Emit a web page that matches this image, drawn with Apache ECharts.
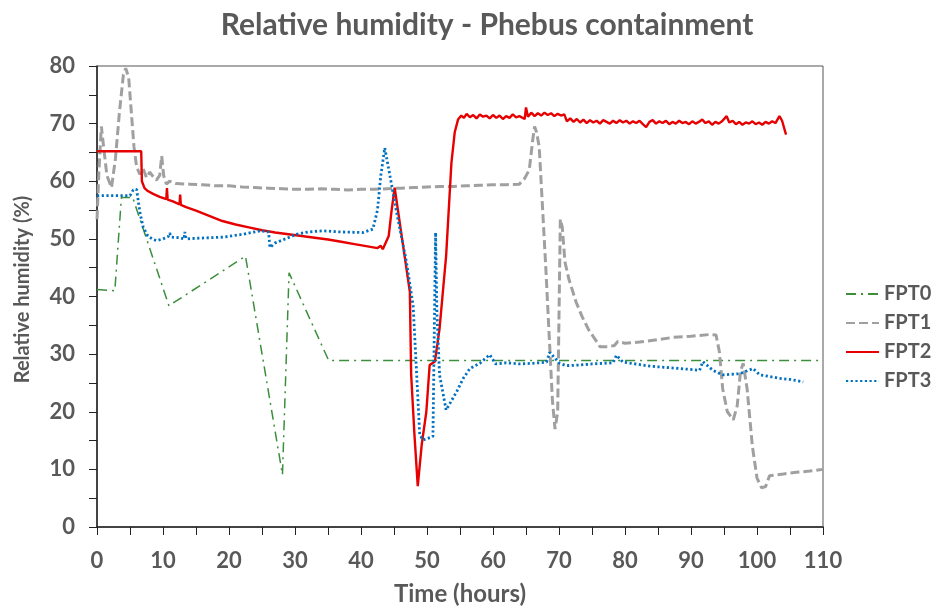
<!DOCTYPE html>
<html>
<head>
<meta charset="utf-8">
<title>Relative humidity - Phebus containment</title>
<script src="https://cdn.jsdelivr.net/npm/echarts@6/dist/echarts.min.js"></script>
<style>
  html, body { margin: 0; padding: 0; background: #fff; }
  #chart { width: 941px; height: 611px; }
</style>
</head>
<body>
<div id="chart"></div>
<script>
// time (hours) / relative humidity (%)
var fpt0Time = [0, 2.7, 3.7, 5.4, 10.9, 22.5, 28.1, 29.1, 35.1, 110];
var fpt0Rh   = [41.2, 41.0, 57.2, 57.2, 38.4, 47.0, 9.1, 44.1, 28.9, 28.9];

var fpt1Time = [0, 0.3, 0.66, 1.0, 1.5, 2.2, 2.8, 3.4, 4.0, 4.35, 4.8, 5.2, 5.6, 6.0, 6.5, 7.0, 7.5, 8.0, 8.5, 9.0,
  9.5, 9.8, 10.1, 10.5, 11, 12, 14, 16, 18, 20, 22, 24, 26, 28, 30, 32, 34, 36, 38, 40,
  42, 44, 46, 48, 50, 52, 54, 56, 58, 60, 62, 64, 64.8, 65.5, 66.0, 66.3, 66.6, 67.0, 68.0, 69.0,
  69.4, 69.8, 70.2, 70.5, 70.9, 71.5, 72.6, 73.5, 74.5, 75.4, 76.2, 77.5, 78.4, 78.9, 80, 82.2, 85, 87.2, 90, 92.8,
  93.8, 94.3, 94.8, 95.5, 96.4, 97.0, 97.5, 97.9, 98.5, 99.3, 100, 100.7, 101.3, 101.9, 104, 106, 108, 110];
var fpt1Rh = [53.4, 62, 69.5, 66, 61, 58.9, 64, 72, 78.5, 79.6, 78, 72, 66, 62.5, 61.2, 62.2, 60.6, 61.6, 60.8, 60.2,
  61.0, 64.4, 61, 59.5, 60.0, 59.6, 59.5, 59.4, 59.2, 59.2, 59.0, 58.9, 58.8, 58.7, 58.6, 58.6, 58.7, 58.6, 58.5, 58.6,
  58.6, 58.7, 58.8, 58.9, 59.0, 59.1, 59.1, 59.2, 59.3, 59.4, 59.4, 59.5, 60.5, 62, 67, 69.5, 68.5, 66, 45, 22,
  17, 20, 53.4, 52, 46, 43, 39, 36.5, 34.2, 32.7, 31.3, 31.3, 31.5, 32.2, 31.9, 32.1, 32.5, 32.9, 33.1, 33.4,
  33.3, 30.4, 24, 20, 18.6, 21, 27, 28.4, 24, 14, 8.5, 6.8, 7.0, 8.9, 9.2, 9.5, 9.7, 10];

var fpt2Time = [0, 6.7, 6.8, 7.2, 7.7, 8.5, 9.5, 10.5, 10.6, 10.7, 11.5, 12.5, 12.6, 12.7, 13.5, 15, 17, 19, 21, 23,
  25, 27, 29, 31, 33, 35, 37, 39, 41, 42.5, 43.0, 43.3, 43.6, 44.2, 44.6, 45.1, 47.4, 47.6, 48.1, 48.6,
  49.2, 49.9, 50.4, 51.2, 51.9, 52.9, 53.7, 54.2, 54.7, 55.2, 55.6, 56, 56.5, 57, 57.5, 58, 58.5, 59, 59.5, 60,
  60.5, 61, 61.5, 62, 62.5, 63, 63.5, 64, 64.8, 65, 65.3, 65.8, 66.3, 66.8, 67.3, 67.8, 68.3, 68.8, 69.3, 69.8,
  70.3, 70.8, 71.2, 71.7, 72.2, 72.7, 73.2, 73.7, 74.2, 74.7, 75.2, 75.7, 76.2, 76.7, 77.2, 77.7, 78.2, 78.7, 79.2, 79.7,
  80.2, 80.7, 81.2, 81.7, 82.2, 82.7, 83.2, 83.7, 84.2, 84.7, 85.2, 85.7, 86.2, 86.7, 87.2, 87.7, 88.2, 88.7, 89.2, 89.7,
  90.2, 90.7, 91.2, 91.7, 92.2, 92.7, 93.2, 93.7, 94.2, 94.7, 95.4, 95.8, 96.3, 96.8, 97.3, 97.8, 98.3, 98.8, 99.3, 99.8,
  100.3, 100.8, 101.3, 101.8, 102.3, 102.8, 103.4, 103.8, 104.1, 104.4];
var fpt2Rh = [65.2, 65.2, 60, 58.8, 58.3, 57.8, 57.3, 56.9, 58.8, 56.8, 56.5, 56.0, 57.7, 55.9, 55.5, 54.9, 54.0, 53.1, 52.5, 52.0,
  51.5, 51.1, 50.8, 50.5, 50.2, 49.9, 49.5, 49.1, 48.7, 48.4, 48.8, 48.2, 47.9, 50.5, 54.6, 58.9, 40.8, 26.4, 16, 7.1,
  14.3, 20, 28.1, 28.7, 34.4, 47.1, 63.2, 68.5, 70.7, 71.4, 71.0, 71.7, 71.1, 71.5, 70.9, 71.6, 71.2, 71.4, 70.9, 71.5,
  71.0, 71.4, 70.8, 71.3, 71.0, 71.6, 71.1, 71.3, 70.8, 72.8, 71.2, 71.9, 71.3, 71.8, 71.4, 71.9, 71.5, 71.8, 71.3, 71.7,
  71.4, 71.6, 70.4, 70.9, 70.3, 70.8, 70.2, 70.7, 70.1, 70.6, 70.2, 70.5, 70.0, 70.6, 70.3, 70.0, 70.5, 70.1, 70.6, 70.2,
  70.5, 70.0, 70.4, 70.1, 70.5, 69.9, 69.4, 70.3, 70.6, 70.0, 70.4, 70.1, 70.5, 69.9, 70.3, 70.0, 70.5, 70.1, 70.3, 69.9,
  70.4, 70.0, 70.3, 70.7, 70.1, 70.4, 69.8, 70.3, 70.0, 70.4, 71.3, 70.2, 70.5, 69.9, 70.3, 69.8, 70.2, 70.0, 70.4, 69.9,
  70.2, 69.8, 70.3, 70.0, 70.4, 70.1, 71.3, 70.5, 70.2, 68.1];

var fpt3Time = [0, 5.0, 5.5, 6.0, 6.5, 7.0, 7.7, 8.5, 9, 10, 10.8, 11.0, 11.3, 12.5, 13.2, 13.3, 13.5, 15, 17, 19.1,
  22.1, 24.7, 26.0, 26.2, 27, 29.2, 30.2, 32, 34.2, 37, 40.3, 41.8, 42.5, 43.0, 43.6, 44.3, 45.4, 46.9, 47.9, 48.9,
  49.4, 50.9, 51.3, 51.5, 51.9, 52.9, 53.5, 54.5, 55.5, 56.5, 58, 59.5, 60.4, 62, 64, 66, 68.1, 68.6, 70.1, 71.1,
  73.1, 75, 78.2, 78.7, 79.7, 81, 83.2, 85, 88.3, 91.3, 91.8, 93.3, 94.8, 97.4, 99.4, 100.4, 102, 103.4, 105, 107];
var fpt3Rh = [57.5, 57.5, 58.5, 58.6, 54.6, 52, 50.5, 49.9, 49.7, 50, 50.4, 51.0, 50.3, 50.2, 50.0, 51.2, 50.0, 50.1, 50.2, 50.3,
  50.8, 51.4, 51.2, 48.5, 49.3, 50.3, 50.8, 51.2, 51.4, 51.2, 51.1, 51.7, 55, 61, 65.8, 61.5, 54.6, 45.9, 38.4, 16,
  15.1, 15.7, 51.1, 37.3, 26.4, 20.3, 21.5, 23.5, 25.8, 27.5, 28.4, 29.9, 28.3, 28.5, 28.3, 28.4, 28.6, 30.3, 28.4, 28.0,
  28.1, 28.3, 28.5, 29.8, 28.6, 28.4, 28.0, 27.8, 27.5, 27.2, 28.7, 27.2, 26.4, 26.6, 27.5, 26.4, 26.1, 25.8, 25.6, 25.2];

var seriesNames = ['FPT0', 'FPT1', 'FPT2', 'FPT3'];

function zip(xs, ys) {
  return xs.map(function (x, i) { return [x, ys[i]]; });
}

var textGrey = '#595959';
var font = 'Lato, "Liberation Sans", sans-serif';

var chart = echarts.init(document.getElementById('chart'));

chart.setOption({
  animation: false,
  backgroundColor: '#fff',
  title: {
    text: 'Relative humidity - Phebus containment',
    left: 482,
    textAlign: 'center',
    top: 5,
    textStyle: { fontFamily: font, fontSize: 30, fontWeight: 'bold', color: textGrey }
  },
  legend: {
    data: seriesNames,
    orient: 'vertical',
    left: 840,
    top: 279,
    itemWidth: 33,
    itemHeight: 10,
    itemGap: 9,
    itemStyle: { opacity: 0 },
    textStyle: { fontFamily: font, fontSize: 20, fontWeight: 'bold', color: textGrey }
  },
  grid: {
    left: 97,
    right: 118,
    top: 66,
    bottom: 82,
    show: true,
    borderColor: '#555',
    borderWidth: 1
  },
  xAxis: {
    type: 'value',
    min: 0,
    max: 110,
    interval: 10,
    name: 'Time (hours)',
    nameLocation: 'middle',
    nameGap: 55,
    nameTextStyle: { fontFamily: font, fontSize: 24, fontWeight: 'bold', color: textGrey },
    axisLine: { lineStyle: { color: '#222', width: 1.5 } },
    axisTick: { length: 8, lineStyle: { color: '#222' } },
    minorTick: { show: true, splitNumber: 2, length: 8, lineStyle: { color: '#222' } },
    splitLine: { show: false },
    axisLabel: { margin: 23, fontFamily: font, fontSize: 22, fontWeight: 'bold', color: textGrey }
  },
  yAxis: {
    type: 'value',
    min: 0,
    max: 80,
    interval: 10,
    name: 'Relative humidity (%)',
    nameLocation: 'middle',
    nameGap: 64,
    nameTextStyle: { fontFamily: font, fontSize: 20, fontWeight: 'bold', color: textGrey, padding: [0, 0, 0, 14] },
    axisLine: { show: true, lineStyle: { color: '#222', width: 1.5 } },
    axisTick: { show: true, length: 8, lineStyle: { color: '#222' } },
    minorTick: { show: true, splitNumber: 2, length: 8, lineStyle: { color: '#222' } },
    splitLine: { show: false },
    axisLabel: { margin: 22, fontFamily: font, fontSize: 22, fontWeight: 'bold', color: textGrey }
  },
  series: [
    {
      name: 'FPT0',
      type: 'line',
      symbol: 'none',
      data: zip(fpt0Time, fpt0Rh),
      itemStyle: { color: '#3b8e3b' },
      lineStyle: { color: '#3b8e3b', width: 1.5, type: [10, 5, 2, 5] }
    },
    {
      name: 'FPT1',
      type: 'line',
      symbol: 'none',
      data: zip(fpt1Time, fpt1Rh),
      itemStyle: { color: '#a0a0a0' },
      lineStyle: { color: '#a0a0a0', width: 3, type: [9, 4] }
    },
    {
      name: 'FPT2',
      type: 'line',
      symbol: 'none',
      data: zip(fpt2Time, fpt2Rh),
      itemStyle: { color: '#e60000' },
      lineStyle: { color: '#e60000', width: 2.4 }
    },
    {
      name: 'FPT3',
      type: 'line',
      symbol: 'none',
      data: zip(fpt3Time, fpt3Rh),
      itemStyle: { color: '#0070c0' },
      lineStyle: { color: '#0070c0', width: 2.8, type: [2.2, 2.5] }
    }
  ]
});
</script>
</body>
</html>
